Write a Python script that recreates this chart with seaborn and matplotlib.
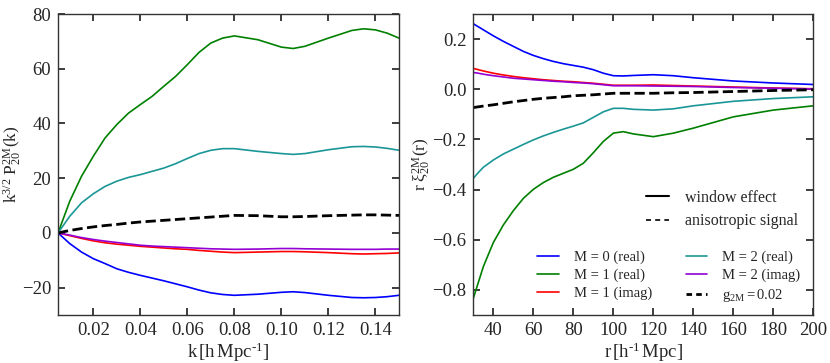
"""Window-function multipoles: P_20^{2M}(k) and xi_20^{2M}(r)"""
import seaborn as sns
import matplotlib.pyplot as plt
import pandas as pd
from matplotlib.lines import Line2D

BLUE, GREEN, RED = '#0000ff', '#008000', '#ff0000'
TEAL, PURPLE = '#1a9696', '#9400d3'

sns.set_theme(style='ticks', rc={
    'xtick.direction': 'in', 'ytick.direction': 'in',
    'xtick.top': True, 'ytick.right': True,
    'xtick.major.size': 5, 'ytick.major.size': 5,
    'xtick.major.pad': 5, 'ytick.major.pad': 5,
    'axes.edgecolor': '#333333', 'axes.linewidth': 1.0,
    'font.size': 13.5, 'axes.labelsize': 13.5,
    'xtick.labelsize': 13.5, 'ytick.labelsize': 13.5,
    'legend.fontsize': 10.5,
    'mathtext.fontset': 'custom', 'mathtext.rm': 'Liberation Serif',
    'mathtext.it': 'Liberation Serif:italic',
})
plt.rcParams['font.family'] = ['Liberation Serif', 'DejaVu Serif']

# ---- left panel: k^{3/2} P_20^{2M}(k)
k = [0.005, 0.01, 0.015, 0.02, 0.025, 0.03, 0.035, 0.04, 0.045, 0.05, 0.055, 0.06, 0.065,
     0.07, 0.075, 0.08, 0.09, 0.10, 0.105, 0.11, 0.12, 0.13, 0.135, 0.14, 0.145, 0.15]
pk_m0_real = [0, -3.9, -7.0, -9.4, -11.2, -13.1, -14.4, -15.5, -16.5, -17.5, -18.6, -19.7, -20.9,
              -21.9, -22.5, -22.8, -22.4, -21.7, -21.5, -21.8, -22.8, -23.6, -23.7, -23.6, -23.3, -22.8]
pk_m1_real = [0, 11.6, 20.7, 28.0, 34.7, 39.6, 43.8, 46.9, 49.9, 53.6, 57.2, 61.5, 66.0,
              69.4, 71.2, 72.0, 70.6, 67.9, 67.4, 68.2, 71.2, 74.0, 74.6, 74.2, 73.0, 71.2]
pk_m1_imag = [0, -1.0, -2.0, -2.9, -3.6, -4.1, -4.5, -4.9, -5.2, -5.5, -5.8, -6.0, -6.4,
              -6.7, -7.0, -7.2, -7.0, -6.8, -6.8, -6.9, -7.2, -7.6, -7.7, -7.6, -7.5, -7.3]
pk_m2_real = [0, 6.1, 11.0, 14.3, 17.0, 18.9, 20.3, 21.3, 22.5, 23.7, 25.3, 27.2, 29.0,
              30.2, 30.8, 30.8, 29.8, 29.0, 28.7, 29.0, 30.4, 31.5, 31.6, 31.4, 30.9, 30.2]
pk_m2_imag = [0, -0.8, -1.7, -2.4, -3.0, -3.5, -4.0, -4.5, -4.8, -5.0, -5.2, -5.4, -5.6,
              -5.8, -5.9, -6.0, -5.9, -5.7, -5.7, -5.8, -5.9, -6.0, -6.0, -6.0, -5.9, -5.9]
pk_signal = [0, 0.9, 1.6, 2.2, 2.7, 3.1, 3.6, 4.0, 4.3, 4.6, 4.9, 5.2, 5.5,
             5.8, 6.1, 6.4, 6.3, 5.9, 5.9, 6.0, 6.3, 6.5, 6.6, 6.6, 6.5, 6.4]

# ---- right panel: r xi_20^{2M}(r)
r = [30, 32.5, 35, 40, 45, 50, 55, 60, 65, 70, 75, 80, 85, 90, 95, 100, 105, 110,
     120, 130, 140, 160, 180, 200]
xi_m0_real = [0.261, 0.249, 0.237, 0.213, 0.191, 0.171, 0.151, 0.135, 0.122, 0.111, 0.102, 0.095,
              0.088, 0.078, 0.064, 0.054, 0.053, 0.055, 0.058, 0.054, 0.046, 0.033, 0.025, 0.019]
xi_m1_real = [-0.833, -0.770, -0.707, -0.611, -0.541, -0.484, -0.435, -0.399, -0.372, -0.351, -0.335,
              -0.319, -0.295, -0.253, -0.208, -0.175, -0.169, -0.178, -0.189, -0.175, -0.155,
              -0.110, -0.083, -0.066]
xi_m1_imag = [0.083, 0.078, 0.073, 0.064, 0.057, 0.051, 0.046, 0.042, 0.038, 0.035, 0.032, 0.030,
              0.027, 0.024, 0.020, 0.016, 0.016, 0.016, 0.017, 0.015, 0.013, 0.009, 0.005, 0.002]
xi_m2_real = [-0.355, -0.332, -0.311, -0.282, -0.258, -0.239, -0.220, -0.202, -0.186, -0.172, -0.159,
              -0.147, -0.134, -0.112, -0.090, -0.076, -0.076, -0.080, -0.083, -0.078, -0.066,
              -0.048, -0.037, -0.030]
xi_m2_imag = [0.067, 0.064, 0.060, 0.054, 0.049, 0.044, 0.041, 0.038, 0.035, 0.032, 0.030, 0.027,
              0.025, 0.022, 0.018, 0.014, 0.014, 0.014, 0.013, 0.012, 0.011, 0.007, 0.004, 0.001]
xi_signal = [-0.073, -0.070, -0.067, -0.062, -0.056, -0.050, -0.045, -0.040, -0.036, -0.033, -0.030,
             -0.026, -0.024, -0.022, -0.019, -0.016, -0.016, -0.016, -0.016, -0.014, -0.013,
             -0.009, -0.005, -0.002]

labels = ['M = 0 (real)', 'M = 1 (real)', 'M = 1 (imag)', 'M = 2 (real)', 'M = 2 (imag)']
colors = [BLUE, GREEN, RED, TEAL, PURPLE]

fig = plt.figure(figsize=(8.3, 3.63), dpi=100)
ax_k = fig.add_axes([0.0699, 0.1322, 0.4108, 0.8292])
ax_r = fig.add_axes([0.5703, 0.1322, 0.4096, 0.8292])

df_k = pd.DataFrame({'k': k, 'M = 0 (real)': pk_m0_real, 'M = 1 (real)': pk_m1_real,
                     'M = 1 (imag)': pk_m1_imag, 'M = 2 (real)': pk_m2_real,
                     'M = 2 (imag)': pk_m2_imag})
df_r = pd.DataFrame({'r': r, 'M = 0 (real)': xi_m0_real, 'M = 1 (real)': xi_m1_real,
                     'M = 1 (imag)': xi_m1_imag, 'M = 2 (real)': xi_m2_real,
                     'M = 2 (imag)': xi_m2_imag})

for lab, c in zip(labels, colors):
    sns.lineplot(data=df_k, x='k', y=lab, color=c, lw=1.2, ax=ax_k)
    sns.lineplot(data=df_r, x='r', y=lab, color=c, lw=1.2, ax=ax_r)
sns.lineplot(x=k, y=pk_signal, color='black', lw=2, ls='--', dashes=(3, 2.2), ax=ax_k)
sns.lineplot(x=r, y=xi_signal, color='black', lw=2, ls='--', dashes=(3, 2.2), ax=ax_r)

ax_k.set_xlim(0.005, 0.15)
ax_k.set_ylim(-30, 80)
ax_k.set_xticks([0.02, 0.04, 0.06, 0.08, 0.10, 0.12, 0.14])
ax_k.set_xticklabels(['0.02', '0.04', '0.06', '0.08', '0.10', '0.12', '0.14'])
ax_k.set_yticks([-20, 0, 20, 40, 60, 80])
ax_k.set_xlabel(r'$\mathrm{k\,[h\,Mpc^{\text{-}1}]}$', labelpad=1)
ax_k.set_ylabel(r'$\mathrm{k^{3/2}\ P_{20}^{2M}(k)}$', fontsize=12.5)
ax_k.yaxis.set_label_coords(-0.1, 0.5)

ax_r.set_xlim(30, 200)
ax_r.set_ylim(-0.9, 0.3)
ax_r.set_xticks([40, 60, 80, 100, 120, 140, 160, 180, 200])
ax_r.set_yticks([0.2, 0.0, -0.2, -0.4, -0.6, -0.8])
ax_r.set_yticklabels(['0.2', '0.0', '\u22120.2', '\u22120.4', '\u22120.6', '\u22120.8'])
ax_r.set_xlabel(r'$\mathrm{r\,[h^{\text{-}1}\,Mpc]}$', labelpad=1)
ax_r.set_ylabel(r'$\mathrm{r\ \xi_{20}^{2M}(r)}$', fontsize=12.5)
ax_r.yaxis.set_label_coords(-0.118, 0.5)

for ax in (ax_k, ax_r):
    for sp in ax.spines.values():
        sp.set_visible(True)

h_top = [Line2D([], [], color='black', lw=1.5),
         Line2D([], [], color='black', lw=1.2, ls='--', dashes=(3, 2.5))]
leg1 = ax_r.legend(h_top, ['window effect', 'anisotropic signal'], loc='upper right',
                   bbox_to_anchor=(0.999, 0.463), frameon=False, handlelength=1.45,
                   handletextpad=1.05, labelspacing=0.45, fontsize=11.5)
ax_r.add_artist(leg1)

h_bot = [Line2D([], [], color=c, lw=1.2) for c in colors[:3]] + \
        [Line2D([], [], color=c, lw=1.2) for c in colors[3:]] + \
        [Line2D([], [], color='black', lw=2, ls='--', dashes=(2, 1.5))]
l_bot = labels[:3] + labels[3:] + [r'$\mathrm{g_{2M}=0.02}$']
ax_r.legend(h_bot, l_bot, loc='lower right', bbox_to_anchor=(1.0, -0.006), ncol=2,
            frameon=False, handlelength=1.5, handletextpad=1.0, columnspacing=2.3,
            labelspacing=0.3, fontsize=10.5)

plt.savefig('out.png', dpi=100)
